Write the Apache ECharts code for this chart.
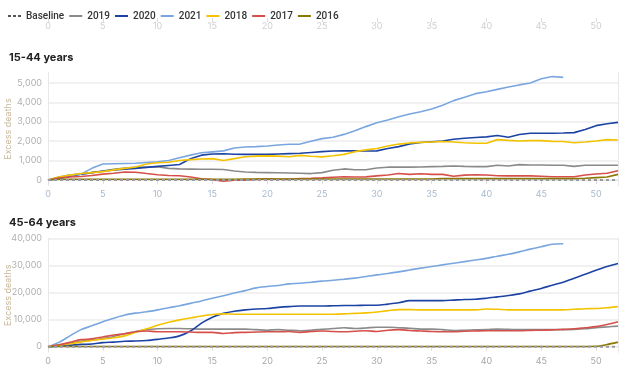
<!DOCTYPE html>
<html><head><meta charset="utf-8">
<script src="https://cdn.jsdelivr.net/npm/echarts@6/dist/echarts.min.js"></script>
<style>html,body{margin:0;padding:0;background:#fff}#c{width:638px;height:379px}</style>
</head><body><div id="c"></div>
<script>
const weeks = Array.from({length:53},(_,i)=>i);
const xTicks = [0,5,10,15,20,25,30,35,40,45,50];
const titles = ['15-44 years','45-64 years'];
const seriesNames = ['Baseline','2019','2020','2021','2018','2017','2016'];

// 15-44 years
const a2019 = [0,150,250,300,380,460,550,620,650,670,680,600,570,560,550,550,540,460,410,390,380,370,360,350,330,380,500,570,530,530,620,660,660,660,670,690,700,720,700,690,690,760,720,790,770,770,760,760,700,760,760,760,760];
const a2020 = [0,80,200,300,380,450,520,560,600,650,700,750,800,1100,1280,1340,1350,1330,1320,1320,1320,1340,1360,1380,1420,1460,1490,1510,1500,1490,1500,1620,1720,1860,1930,1970,2010,2100,2150,2190,2220,2290,2200,2340,2410,2410,2410,2420,2440,2600,2800,2900,2970];
const a2021 = [0,100,250,300,600,820,840,850,860,900,940,1000,1150,1280,1400,1450,1500,1650,1700,1720,1750,1800,1840,1850,2000,2130,2200,2350,2540,2750,2950,3090,3260,3400,3520,3660,3850,4090,4260,4450,4550,4670,4790,4900,5000,5220,5330,5290];
const a2018 = [0,150,250,330,380,430,520,600,670,820,890,910,1000,1050,1080,1100,1000,1100,1200,1230,1240,1230,1200,1270,1220,1190,1250,1320,1460,1550,1620,1750,1850,1910,1940,1960,1980,1960,1920,1890,1890,2080,2040,2010,2030,2030,1990,1980,1920,1960,2010,2080,2060];
const a2017 = [0,100,150,180,230,300,350,410,400,330,270,230,220,150,60,20,-60,-10,-10,30,60,40,30,80,90,110,140,170,150,160,210,260,330,290,320,290,290,190,250,270,260,220,210,210,210,190,170,170,170,260,310,350,480];
const a2016 = [0,35,35,35,35,35,35,35,35,35,35,35,35,35,35,35,35,35,50,50,50,50,50,50,50,50,50,50,50,50,50,50,50,50,50,50,70,70,70,70,70,70,70,70,70,70,70,70,70,90,120,150,290];

// 45-64 years
const b2019 = [0,500,1200,2000,2400,3000,3800,4800,5600,6300,6600,6700,6700,6600,6500,6500,6500,6500,6500,6300,6100,6300,6100,5900,6100,6400,6700,7000,6700,6900,7200,7200,7000,6800,6500,6500,6300,6000,6100,6200,6300,6500,6400,6300,6300,6300,6300,6300,6400,6600,7000,7300,7600];
const b2020 = [0,250,500,860,1000,1500,1700,2000,2100,2300,2700,3200,4000,5800,8700,10900,12300,13100,13600,13900,14100,14500,14800,15000,15000,15000,15100,15200,15200,15300,15300,15700,16200,17000,17000,17000,17000,17200,17400,17500,17900,18400,18900,19500,20500,21500,22700,23800,25300,26700,28200,29600,30700];
const b2021 = [0,1600,4000,6300,7700,9200,10500,11700,12400,12900,13600,14400,15100,16000,16900,17900,18800,19800,20700,21700,22200,22600,23200,23400,23800,24200,24500,24900,25300,25900,26500,27000,27600,28300,29000,29600,30200,30800,31400,32000,32600,33400,34100,35000,36000,36900,37800,38000];
const b2018 = [0,600,1100,1700,2300,2800,3300,4000,5300,6600,7900,9000,9900,10600,11300,11900,12100,12000,12000,12000,12000,12000,12000,12000,12000,12000,12000,12100,12300,12500,12800,13300,13700,13700,13600,13600,13600,13600,13600,13600,13900,13800,13600,13600,13600,13600,13600,13600,13800,14000,14100,14400,14800];
const b2017 = [0,700,1600,2600,2900,3600,4300,4800,5500,5800,5500,5500,5500,5400,5300,5300,4900,5200,5300,5400,5500,5500,5600,5300,5600,5800,5600,5500,5700,5900,5600,6100,6300,6000,5800,5600,5500,5500,5700,5800,5900,5900,5900,5900,6000,6100,6200,6400,6600,7000,7400,8200,9200];
const b2016 = [0,100,100,100,100,100,100,100,100,100,100,100,100,100,100,100,100,100,100,100,100,100,100,100,100,100,100,100,100,100,100,100,100,100,100,100,100,100,100,100,100,100,100,100,100,100,100,100,100,100,150,800,1700];
const baseline = weeks.map(()=>0);

const colors = {'Baseline':'#555','2019':'#8a8a8a','2020':'#1c43a3','2021':'#79a6df','2018':'#f3c300','2017':'#d5504a','2016':'#8c7800'};
const pairs = arr => arr.map((v,i)=>[i,v]);
const FONT = 'Inter, "Noto Sans", sans-serif';
const LFONT = 'Roboto, "Noto Sans", sans-serif';
const solidIcon = 'path://M0,0h13v2h-13z';
const dashIcon = 'path://M0,0h3v2h-3zM5,0h3v2h-3zM10,0h3v2h-3z';
const fmt = v => String(v).replace(/\B(?=(\d{3})+(?!\d))/g, ',');

function lineSeries(name, arr, idx, smooth){
  const s = {name, type:'line', xAxisIndex:idx, yAxisIndex:idx, data:pairs(arr), symbol:'none', showSymbol:false, smooth:smooth,
    lineStyle:{color:colors[name], width:1.6}, itemStyle:{color:colors[name]}, z:2};
  if(name==='Baseline'){ s.lineStyle = {color:'#9a9a9a', width:2, type:[3,3]}; s.z=5; }
  return s;
}

const chart = echarts.init(document.getElementById('c'), null, {renderer:'canvas'});
const yAxisBase = (idx, min, max) => ({
  gridIndex: idx, type:'value', min, max, splitNumber:5,
  name:'Excess deaths', nameLocation:'middle', nameGap:35, nameMoveOverlap:false,
  nameTextStyle:{color:'#c9b89c', fontSize:9, fontFamily:FONT},
  axisLine:{show:true, lineStyle:{color:'#e8e8e8'}},
  axisTick:{show:false},
  axisLabel:{color:'#b0b0b0', fontSize:9, fontFamily:FONT, margin:6, showMinLabel:false, showMaxLabel: idx===2,
    formatter: fmt},
  splitLine:{show:true, showMinLine:false, showMaxLine: idx===2, lineStyle:{color:'#ececec', width:1.5}}
});
const yRight = (idx, min, max) => ({gridIndex:idx, type:'value', min, max, position:'right',
  axisLine:{show:true, lineStyle:{color:'#e8e8e8'}}, axisTick:{show:false}, axisLabel:{show:false}, splitLine:{show:false}});
const xAxisBase = (idx, color) => ({
  gridIndex: idx, type:'value', min:0, max:52, interval:5,
  axisLine:{show: idx!==0, lineStyle:{color:'#e3e3e3'}},
  axisTick:{show:true, length:4, lineStyle:{color:'#dcdcdc'}},
  axisLabel:{color, fontSize:9, fontFamily:FONT, margin:4, showMaxLabel:false},
  splitLine:{show:false}
});
const gridBase = {left:48, right:20, containLabel:false, outerBoundsMode:'none'};

const option = {
  animation:false,
  backgroundColor:'#fff',
  textStyle:{fontFamily:FONT},
  legend:{
    data: seriesNames.map(n => ({name:n, icon: n==='Baseline' ? dashIcon : solidIcon})),
    left:3, top:6, itemWidth:13, itemHeight:8, itemGap:5,
    textStyle:{color:'#333', fontSize:10, fontWeight:500, fontFamily:LFONT}
  },
  title:[
    {text:titles[0], left:4, top:47, textStyle:{fontSize:11, fontWeight:'bold', color:'#222', fontFamily:FONT}},
    {text:titles[1], left:4, top:212, textStyle:{fontSize:11, fontWeight:'bold', color:'#222', fontFamily:FONT}}
  ],
  grid:[
    Object.assign({top:0, height:18}, gridBase),
    Object.assign({top:72.3, height:113.5}, gridBase),
    Object.assign({top:238.3, height:114.1}, gridBase)
  ],
  xAxis:[ xAxisBase(0,'#cfcfcf'), xAxisBase(1,'#a9b9cc'), xAxisBase(2,'#a8a8a8') ],
  yAxis:[
    {gridIndex:0, type:'value', min:0, max:1, show:false},
    yAxisBase(1, -300, 5550),
    yAxisBase(2, -2100, 40000),
    yRight(1, -300, 5550),
    yRight(2, -2100, 40000)
  ],
  series:[
    lineSeries('2019', a2019, 1, false),
    lineSeries('2020', a2020, 1, false),
    lineSeries('2021', a2021, 1, false),
    lineSeries('2018', a2018, 1, false),
    lineSeries('2017', a2017, 1, false),
    lineSeries('2016', a2016, 1, false),
    lineSeries('Baseline', baseline, 1, false),
    lineSeries('2019', b2019, 2, 0.3),
    lineSeries('2020', b2020, 2, 0.3),
    lineSeries('2021', b2021, 2, 0.3),
    lineSeries('2018', b2018, 2, 0.3),
    lineSeries('2017', b2017, 2, 0.3),
    lineSeries('2016', b2016, 2, 0.3),
    lineSeries('Baseline', baseline, 2, false)
  ]
};
chart.setOption(option);
</script></body></html>
